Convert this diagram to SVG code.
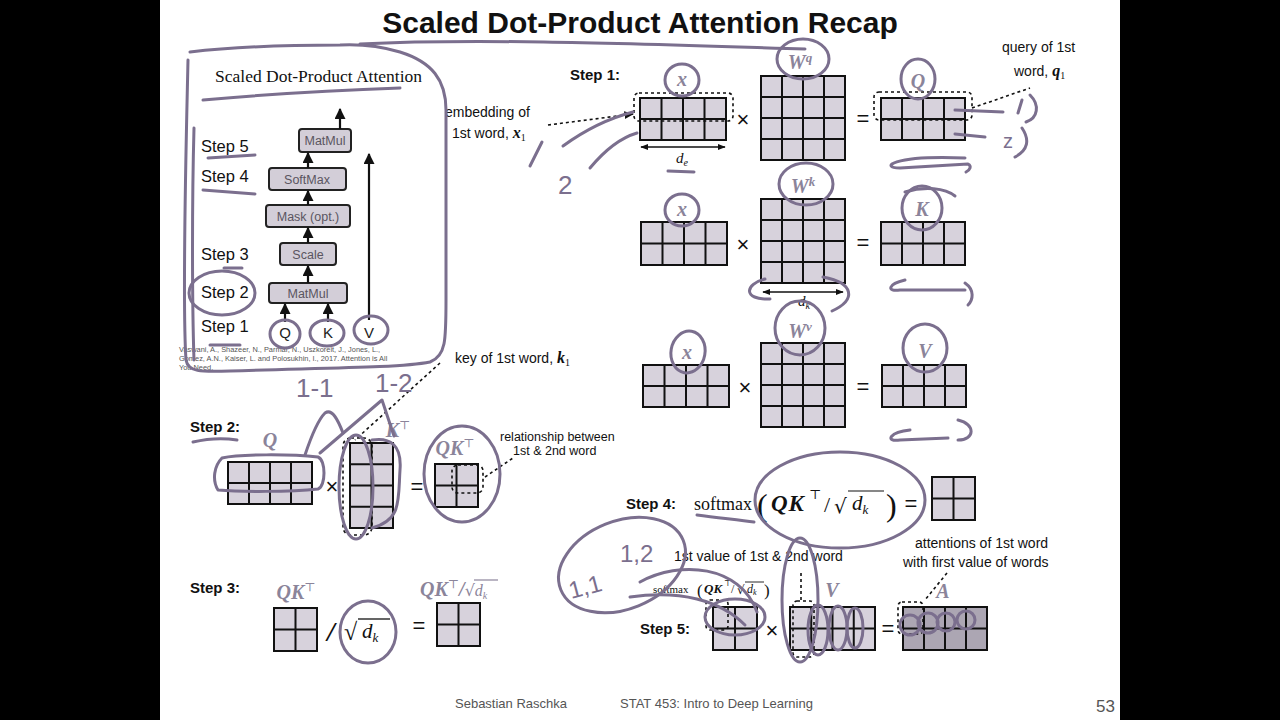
<svg xmlns="http://www.w3.org/2000/svg" width="1280" height="720" viewBox="0 0 1280 720">
<defs>
<style>
.sans{font-family:"Liberation Sans",Arial,sans-serif}
.serif{font-family:"Liberation Serif","Times New Roman",serif}
.step{font-family:"Liberation Sans",Arial,sans-serif;font-weight:bold;font-size:15px;fill:#111}
.mat{fill:#d7d2dc;stroke:#111;stroke-width:2}
.matA{fill:#aca6b3;stroke:#111;stroke-width:2}
.grid{stroke:#111;stroke-width:2;fill:none}
.lbl{font-family:"Liberation Serif","Times New Roman",serif;font-weight:bold;font-style:italic;font-size:20px;fill:#8b849a}
.sup{font-family:"DejaVu Serif",serif;font-style:normal;font-weight:normal}
.op{font-family:"Liberation Sans",Arial,sans-serif;font-size:22px;fill:#111;text-anchor:middle}
.hw{fill:none;stroke:#7b6f8e;stroke-width:3;stroke-linecap:round;stroke-linejoin:round}
.hwt{font-family:"Liberation Sans",Arial,sans-serif;fill:#7b6f8e}
.dot{fill:none;stroke:#111;stroke-width:1.6;stroke-dasharray:3 3}
.box{fill:#d3ced8;stroke:#222;stroke-width:2}
.boxt{font-family:"Liberation Sans",Arial,sans-serif;font-size:12.5px;fill:#5a5560;text-anchor:middle}
.arw{stroke:#111;stroke-width:2.2;fill:none}
.note{font-family:"Liberation Sans",Arial,sans-serif;font-size:14px;fill:#111}
</style>
<marker id="ah" viewBox="0 0 10 10" refX="9" refY="5" markerWidth="5" markerHeight="5" orient="auto-start-reverse">
<path d="M0,0 L10,5 L0,10 z" fill="#111"/>
</marker>
<marker id="ahs" viewBox="0 0 10 10" refX="9" refY="5" markerWidth="6" markerHeight="6" orient="auto-start-reverse">
<path d="M0,1 L10,5 L0,9 z" fill="#111"/>
</marker>
</defs>

<rect x="0" y="0" width="1280" height="720" fill="#fff"/>
<rect x="0" y="0" width="160" height="720" fill="#000"/>
<rect x="1120" y="0" width="160" height="720" fill="#000"/>

<g id="title">
<text x="640" y="33" class="sans" font-size="30" font-weight="bold" text-anchor="middle" fill="#111">Scaled Dot-Product Attention Recap</text>
</g>

<!-- Left panel: architecture -->
<g id="arch-panel">
<text x="215" y="82" class="serif" font-size="17.5" fill="#111">Scaled Dot-Product Attention</text>
<g id="arch-matmul2"><rect x="299" y="129" width="52" height="23" rx="3" class="box"/><text x="325" y="145" class="boxt">MatMul</text></g>
<g id="arch-softmax"><rect x="269" y="168" width="77" height="22" rx="3" class="box"/><text x="307" y="184" class="boxt">SoftMax</text></g>
<g id="arch-mask"><rect x="266" y="205" width="84" height="22" rx="3" class="box"/><text x="308" y="221" class="boxt">Mask (opt.)</text></g>
<g id="arch-scale"><rect x="280" y="243" width="56" height="22" rx="3" class="box"/><text x="308" y="259" class="boxt">Scale</text></g>
<g id="arch-matmul1"><rect x="269" y="283" width="78" height="20" rx="3" class="box"/><text x="308" y="298" class="boxt">MatMul</text></g>
<g id="arch-inputs" class="sans" font-size="15" fill="#222" text-anchor="middle">
<text x="285" y="338">Q</text><text x="328" y="338">K</text><text x="369" y="338">V</text>
</g>
<g id="arch-steps" class="sans" font-size="16.5" fill="#111">
<text x="201" y="152">Step 5</text>
<text x="201" y="182">Step 4</text>
<text x="201" y="260">Step 3</text>
<text x="201" y="298">Step 2</text>
<text x="201" y="332">Step 1</text>
</g>
<g id="citation" class="sans" font-size="7.4" fill="#555">
<text x="179" y="352">Vaswani, A., Shazeer, N., Parmar, N., Uszkoreit, J., Jones, L.,</text>
<text x="179" y="361">Gomez, A.N., Kaiser, L. and Polosukhin, I., 2017. Attention is All</text>
<text x="179" y="370">You Need.</text>
</g>
</g>

<g id="connectors">
<line x1="340" y1="129" x2="340" y2="109" class="arw" marker-end="url(#ah)"/>
<line x1="308" y1="168" x2="308" y2="153" class="arw" marker-end="url(#ah)"/>
<line x1="308" y1="205" x2="308" y2="191" class="arw" marker-end="url(#ah)"/>
<line x1="308" y1="243" x2="308" y2="228" class="arw" marker-end="url(#ah)"/>
<line x1="308" y1="283" x2="308" y2="266" class="arw" marker-end="url(#ah)"/>
<line x1="285" y1="322" x2="285" y2="304" class="arw" marker-end="url(#ah)"/>
<line x1="328" y1="322" x2="328" y2="304" class="arw" marker-end="url(#ah)"/>
<line x1="369" y1="320" x2="369" y2="154" class="arw" marker-end="url(#ah)"/>
<!-- dimension arrows -->
<line x1="641" y1="147" x2="725" y2="147" stroke="#111" stroke-width="1.3" marker-start="url(#ahs)" marker-end="url(#ahs)"/>
<line x1="763" y1="292" x2="843" y2="292" stroke="#111" stroke-width="1.3" marker-start="url(#ahs)" marker-end="url(#ahs)"/>
<!-- dotted leader lines -->
<line x1="548" y1="125" x2="633" y2="114" class="dot" marker-end="url(#ahs)"/>
<line x1="972" y1="108" x2="1030" y2="88" class="dot"/>
<line x1="440" y1="363" x2="355" y2="440" class="dot"/>
<line x1="485" y1="477" x2="513" y2="458" class="dot"/>
<line x1="801" y1="573" x2="801" y2="600" class="dot"/>
<line x1="947" y1="573" x2="925" y2="600" class="dot"/>
</g>

<!-- Step 1 -->
<g id="step1">
<text x="570" y="80" class="step">Step 1:</text>
<text x="445" y="117" class="note">embedding of</text>
<text x="452" y="138" class="note">1st word, <tspan class="serif" font-weight="bold" font-style="italic" font-size="16">x</tspan><tspan class="serif" font-size="10" dy="3">1</tspan></text>
<text x="1002" y="52" class="note">query of 1st</text>
<text x="1014" y="76" class="note">word, <tspan class="serif" font-weight="bold" font-style="italic" font-size="16">q</tspan><tspan class="serif" font-size="10" dy="3">1</tspan></text>
</g>

<g id="row-q">
<g id="mat-x1"><rect x="640" y="98" width="86" height="42" class="mat"/><path d="M661.5 98V140M683 98V140M704.5 98V140M640 119H726" class="grid"/></g>
<text x="682" y="86" class="lbl" text-anchor="middle">x</text>
<rect x="634" y="93" width="99" height="28" rx="5" class="dot"/>
<text x="743" y="127" class="op">×</text>
<g id="mat-wq"><rect x="761" y="76" width="84" height="84" class="mat"/><path d="M782 76V160M803 76V160M824 76V160M761 97H845M761 118H845M761 139H845" class="grid"/></g>
<text x="800" y="69" class="lbl" text-anchor="middle">W<tspan font-size="13" dy="-7">q</tspan></text>
<text x="863" y="126" class="op">=</text>
<g id="mat-q"><rect x="881" y="98" width="84" height="42" class="mat"/><path d="M902 98V140M923 98V140M944 98V140M881 119H965" class="grid"/></g>
<rect x="874" y="92" width="98" height="28" rx="5" class="dot"/>
<text x="918" y="88" class="lbl" text-anchor="middle">Q</text>
<text x="676" y="163" class="serif" font-style="italic" font-size="15" fill="#111">d<tspan font-size="10" dy="3">e</tspan></text>
</g>

<g id="row-k">
<g id="mat-x2"><rect x="641" y="222" width="86" height="43" class="mat"/><path d="M662.5 222V265M684 222V265M705.5 222V265M641 243.5H727" class="grid"/></g>
<text x="682" y="216" class="lbl" text-anchor="middle">x</text>
<text x="743" y="252" class="op">×</text>
<g id="mat-wk"><rect x="761" y="199" width="84" height="84" class="mat"/><path d="M782 199V283M803 199V283M824 199V283M761 220H845M761 241H845M761 262H845" class="grid"/></g>
<text x="803" y="193" class="lbl" text-anchor="middle">W<tspan font-size="13" dy="-7">k</tspan></text>
<text x="863" y="250" class="op">=</text>
<g id="mat-k"><rect x="881" y="222" width="84" height="43" class="mat"/><path d="M902 222V265M923 222V265M944 222V265M881 243.5H965" class="grid"/></g>
<text x="922" y="216" class="lbl" text-anchor="middle">K</text>
<text x="798" y="306" class="serif" font-style="italic" font-size="15" fill="#111">d<tspan font-size="10" dy="3">k</tspan></text>
</g>

<g id="row-v">
<g id="mat-x3"><rect x="643" y="365" width="86" height="42" class="mat"/><path d="M664.5 365V407M686 365V407M707.5 365V407M643 386H729" class="grid"/></g>
<text x="687" y="359" class="lbl" text-anchor="middle">x</text>
<text x="745" y="395" class="op">×</text>
<g id="mat-wv"><rect x="761" y="343" width="84" height="84" class="mat"/><path d="M782 343V427M803 343V427M824 343V427M761 364H845M761 385H845M761 406H845" class="grid"/></g>
<text x="800" y="338" class="lbl" text-anchor="middle">W<tspan font-size="13" dy="-7">v</tspan></text>
<text x="863" y="394" class="op">=</text>
<g id="mat-v"><rect x="882" y="365" width="84" height="42" class="mat"/><path d="M903 365V407M924 365V407M945 365V407M882 386H966" class="grid"/></g>
<text x="925" y="358" class="lbl" text-anchor="middle">V</text>
</g>

<!-- Step 2 -->
<g id="step2">
<text x="190" y="432" class="step">Step 2:</text>
<text x="455" y="363" class="note">key of 1st word, <tspan class="serif" font-weight="bold" font-style="italic" font-size="16">k</tspan><tspan class="serif" font-size="10" dy="3">1</tspan></text>
<g id="mat-q2"><rect x="228" y="462" width="84" height="42" class="mat"/><path d="M249 462V504M270 462V504M291 462V504M228 483H312" class="grid"/></g>
<text x="270" y="447" class="lbl" text-anchor="middle">Q</text>
<text x="332" y="494" class="op">×</text>
<g id="mat-kt"><rect x="350" y="443" width="43" height="85" class="mat"/><path d="M371.5 443V528M350 464.25H393M350 485.5H393M350 506.75H393" class="grid"/></g>
<rect x="343" y="438" width="29" height="97" rx="8" class="dot"/>
<text x="398" y="437" class="lbl" text-anchor="middle">K<tspan class="sup" font-size="12" dy="-8">⊤</tspan></text>
<text x="417" y="494" class="op">=</text>
<g id="mat-qkt"><rect x="435" y="464" width="43" height="43" class="mat"/><path d="M456.5 464V507M435 485.5H478" class="grid"/></g>
<rect x="452" y="465" width="31" height="28" rx="6" class="dot"/>
<text x="455" y="455" class="lbl" text-anchor="middle">QK<tspan class="sup" font-size="12" dy="-8">⊤</tspan></text>
<text x="500" y="441" class="sans" font-size="12.5" fill="#111">relationship between</text>
<text x="513" y="455" class="sans" font-size="12.5" fill="#111">1st &amp; 2nd word</text>
</g>

<!-- Step 3 -->
<g id="step3">
<text x="190" y="593" class="step">Step 3:</text>
<text x="296" y="599" class="lbl" text-anchor="middle">QK<tspan class="sup" font-size="12" dy="-8">⊤</tspan></text>
<g id="mat-s3a"><rect x="274" y="608" width="43" height="43" class="mat"/><path d="M295.5 608V651M274 629.5H317" class="grid"/></g>
<text x="327" y="641" class="serif" font-size="28" font-weight="bold" font-style="italic" fill="#111">/</text>
<text x="344" y="640" class="serif" font-size="24" fill="#111">√</text>
<line x1="358" y1="619" x2="390" y2="619" stroke="#111" stroke-width="1.3"/>
<text x="362" y="638" class="serif" font-size="21" font-style="italic" fill="#111">d<tspan font-size="13" dy="4">k</tspan></text>
<text x="419" y="633" class="op">=</text>
<g id="mat-s3b"><rect x="437" y="603" width="43" height="43" class="mat" fill="#dcd8e0"/><path d="M458.5 603V646M437 624.5H480" class="grid"/></g>
<text x="420" y="596" class="lbl">QK<tspan class="sup" font-size="12" dy="-8">⊤</tspan><tspan dy="8">/</tspan><tspan class="sup" font-size="16" font-style="normal">√</tspan><tspan font-size="16" font-weight="normal">d</tspan><tspan font-size="10" font-weight="normal" dy="3">k</tspan></text>
<line x1="474" y1="580" x2="498" y2="580" stroke="#8b849a" stroke-width="1.2"/>
</g>

<!-- Step 4 -->
<g id="step4">
<text x="626" y="509" class="step">Step 4:</text>
<text x="694" y="510" class="serif" font-size="18" fill="#111">softmax</text>
<text x="757" y="516" class="serif" font-size="32" fill="#111">(</text>
<text x="771" y="511" class="serif" font-size="23" font-weight="bold" font-style="italic" fill="#111" letter-spacing="1">QK</text>
<text x="809" y="499" class="sup" font-size="13" fill="#111">⊤</text>
<text x="824" y="512" class="serif" font-size="22" fill="#111">/</text>
<text x="834" y="513" class="sup" font-size="20" fill="#111">√</text>
<line x1="848" y1="491" x2="884" y2="491" stroke="#111" stroke-width="1.2"/>
<text x="852" y="510" class="serif" font-size="21" font-style="italic" fill="#111">d<tspan font-size="13" dy="4">k</tspan></text>
<text x="886" y="516" class="serif" font-size="32" fill="#111">)</text>
<text x="911" y="511" class="op">=</text>
<g id="mat-s4"><rect x="932" y="477" width="43" height="43" class="mat"/><path d="M953.5 477V520M932 498.5H975" class="grid"/></g>
</g>

<!-- Step 5 -->
<g id="step5">
<text x="674" y="561" class="note" font-size="14.5">1st value of 1st &amp; 2nd word</text>
<text x="915" y="548" class="note" font-size="14.5">attentions of 1st word</text>
<text x="903" y="567" class="note" font-size="14.5">with first value of words</text>
<text x="653" y="593" class="serif" font-size="11" fill="#111">softmax</text>
<text x="697" y="596" class="serif" font-size="17" fill="#111">(</text>
<text x="704" y="593" class="serif" font-size="13" font-weight="bold" font-style="italic" fill="#111">QK</text>
<text x="724" y="586" class="sup" font-size="8" fill="#111">⊤</text>
<text x="731" y="593" class="serif" font-size="12" fill="#111">/</text>
<text x="737" y="594" class="sup" font-size="12" fill="#111">√</text>
<line x1="745" y1="582" x2="764" y2="582" stroke="#111" stroke-width="0.9"/>
<text x="747" y="593" class="serif" font-size="12" font-style="italic" fill="#111">d<tspan font-size="8" dy="2">k</tspan></text>
<text x="764" y="596" class="serif" font-size="17" fill="#111">)</text>
<text x="640" y="634" class="step">Step 5:</text>
<g id="mat-s5a"><rect x="713" y="607" width="44" height="43" class="mat"/><path d="M735 607V650M713 628.5H757" class="grid"/></g>
<rect x="706" y="600" width="22" height="30" rx="4" class="dot"/>
<text x="772" y="638" class="op">×</text>
<g id="mat-s5v"><rect x="790" y="607" width="85" height="43" class="mat"/><path d="M811.25 607V650M832.5 607V650M853.75 607V650M790 628.5H875" class="grid"/></g>
<rect x="793" y="601" width="21" height="56" rx="4" class="dot"/>
<text x="832" y="597" class="lbl" text-anchor="middle">V</text>
<text x="888" y="636" class="op">=</text>
<g id="mat-a"><rect x="903" y="607" width="84" height="43" class="matA"/><path d="M924 607V650M945 607V650M966 607V650M903 628.5H987" class="grid"/></g>
<rect x="898" y="602" width="25" height="32" rx="4" class="dot"/>
<text x="943" y="598" class="lbl" text-anchor="middle">A</text>
</g>

<!-- Handwritten annotations -->
<g id="handwriting">
<path class="hw" d="M188 60 C186 150 182 300 186 360 C188 372 200 372 230 371 C320 368 400 368 430 362 C446 356 446 340 446 300 L446 110 C446 80 432 62 400 52 C380 46 360 44 340 45 C300 45 240 46 190 52"/>
<path class="hw" d="M360 44 C480 38 640 44 805 49"/>
<path class="hw" d="M194 128 C192 200 192 300 194 360"/>
<path class="hw" d="M203 100 C270 94 340 90 400 88"/>
<path class="hw" d="M208 158 L255 155"/>
<path class="hw" d="M203 190 L255 194"/>
<path class="hw" d="M224 268 L242 268"/>
<ellipse class="hw" cx="222" cy="293" rx="33" ry="22"/>
<path class="hw" d="M210 345 L240 345"/>
<ellipse class="hw" cx="285" cy="334" rx="15" ry="14"/>
<ellipse class="hw" cx="327" cy="333" rx="17" ry="13"/>
<ellipse class="hw" cx="371" cy="330" rx="17" ry="14"/>

<path class="hw" d="M530 166 L542 142"/>
<path class="hw" d="M563 146 C585 130 610 118 633 112"/>
<path class="hw" d="M590 168 C605 150 620 138 637 133"/>
<text x="558" y="194" class="hwt" font-size="26">2</text>
<ellipse class="hw" cx="682" cy="80" rx="17" ry="16"/>
<path class="hw" d="M668 171 L694 172"/>
<ellipse class="hw" cx="803" cy="59" rx="26" ry="20"/>
<ellipse class="hw" cx="918" cy="79" rx="17" ry="20"/>
<path class="hw" d="M955 110 L1003 112"/>
<path class="hw" d="M955 134 L985 137"/>
<path class="hw" d="M1022 100 L1018 113"/>
<path class="hw" d="M1030 95 C1040 105 1038 118 1026 122"/>
<text x="1003" y="148" class="hwt" font-size="20">z</text>
<path class="hw" d="M1022 128 C1030 140 1028 150 1015 157"/>
<path class="hw" d="M965 158 C890 155 880 168 900 168 L968 164 C972 166 970 170 966 172"/>

<ellipse class="hw" cx="682" cy="210" rx="17" ry="16"/>
<ellipse class="hw" cx="806" cy="184" rx="27" ry="21"/>
<ellipse class="hw" cx="922" cy="208" rx="20" ry="22"/>
<path class="hw" d="M905 192 C925 186 945 188 955 196"/>
<path class="hw" d="M765 279 C745 284 742 300 770 299"/>
<path class="hw" d="M823 277 C855 283 856 300 832 311"/>
<path class="hw" d="M905 280 C888 284 886 292 900 290 L965 290"/>
<path class="hw" d="M965 283 C975 290 973 300 968 305"/>

<ellipse class="hw" cx="688" cy="352" rx="17" ry="21" transform="rotate(10 688 352)"/>
<ellipse class="hw" cx="800" cy="328" rx="25" ry="27"/>
<ellipse class="hw" cx="925" cy="348" rx="22" ry="24"/>
<path class="hw" d="M910 430 C890 432 884 442 900 440 L948 438"/>
<path class="hw" d="M958 420 C976 424 975 440 958 440"/>

<text x="296" y="397" class="hwt" font-size="26">1-1</text>
<text x="375" y="392" class="hwt" font-size="26">1-2</text>
<path class="hw" d="M305 455 C310 440 318 420 325 413 C332 408 338 420 343 433"/>
<path class="hw" d="M320 453 L382 400 L394 436"/>
<path class="hw" d="M193 442 C210 438 225 438 237 440"/>
<path class="hw" d="M222 458 C240 454 290 454 318 457 C326 460 326 486 318 489 C290 492 240 492 218 490 C212 480 214 466 222 458"/>
<ellipse class="hw" cx="356" cy="487" rx="17" ry="52"/>
<path class="hw" d="M372 440 C390 437 402 445 400 470 C398 500 402 520 372 528"/>
<ellipse class="hw" cx="462" cy="474" rx="38" ry="48"/>

<ellipse class="hw" cx="368" cy="632" rx="28" ry="31"/>

<ellipse class="hw" cx="840" cy="500" rx="85" ry="48"/>
<path class="hw" d="M697 515 C720 518 740 520 754 522"/>

<ellipse class="hw" cx="622" cy="565" rx="66" ry="44" transform="rotate(-22 622 565)"/>
<text x="620" y="562" class="hwt" font-size="24">1,2</text>
<text x="568" y="595" class="hwt" font-size="24" transform="rotate(-15 585 585)">1,1</text>
<path class="hw" d="M630 597 C680 590 720 600 745 625"/>
<path class="hw" d="M640 582 C680 560 740 565 757 612"/>
<ellipse class="hw" cx="735" cy="617" rx="30" ry="18"/>
<ellipse class="hw" cx="800" cy="600" rx="18" ry="62"/>
<ellipse class="hw" cx="818" cy="630" rx="10" ry="25"/>
<ellipse class="hw" cx="838" cy="628" rx="9" ry="22"/>
<ellipse class="hw" cx="855" cy="628" rx="8" ry="20"/>
<circle class="hw" cx="910" cy="625" r="10"/>
<circle class="hw" cx="928" cy="623" r="10"/>
<circle class="hw" cx="946" cy="622" r="9"/>
<circle class="hw" cx="966" cy="620" r="9"/>
</g>

<g id="footer" class="sans" fill="#555">
<text x="455" y="708" font-size="13">Sebastian Raschka</text>
<text x="620" y="708" font-size="13">STAT 453: Intro to Deep Learning</text>
<text x="1096" y="712" font-size="17">53</text>
</g>
</svg>
